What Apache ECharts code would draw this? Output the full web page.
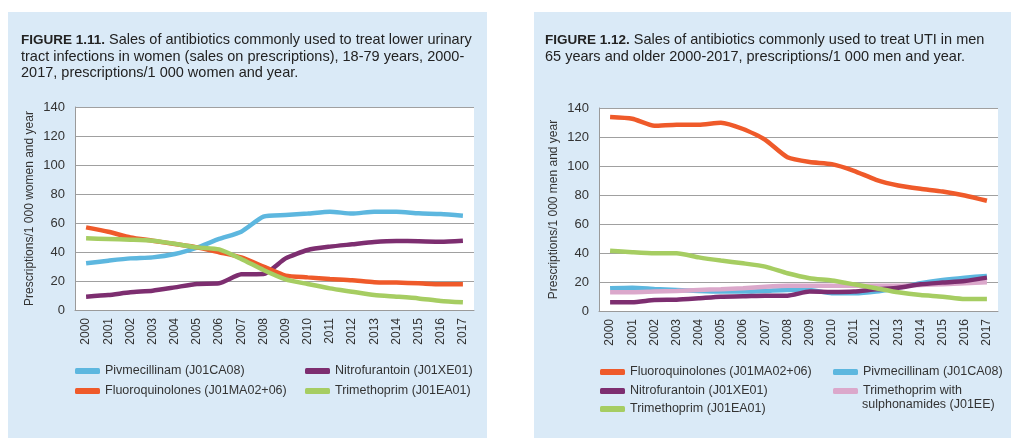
<!DOCTYPE html>
<html><head><meta charset="utf-8">
<script src="https://cdn.jsdelivr.net/npm/echarts@6/dist/echarts.min.js"></script>
<style>html,body{margin:0;padding:0;background:#fff}#c{width:1024px;height:440px}</style>
</head><body><div id="c"></div>
<script>
const years = ['2000','2001','2002','2003','2004','2005','2006','2007','2008','2009','2010','2011','2012','2013','2014','2015','2016','2017'];
const yTicks = [0,20,40,60,80,100,120,140];
// Figure 1.11 (women)
const w_pivmecillinam = [32.2,34,35.6,36.3,38.6,43,49,54,64.4,65.5,66.5,67.8,66.5,67.8,67.8,66.7,66.2,65];
const w_nitrofurantoin = [9.2,10.3,12.2,13.3,15.6,18,18.4,24.6,24.8,35.6,41.4,43.7,45.3,46.9,47.6,47.4,47.1,47.8];
const w_fluoroquinolones = [57,54,50,47.8,45.5,43.2,39.8,36.3,30,23.7,22.5,21.4,20.5,19.1,18.9,18.4,17.7,17.7];
const w_trimethoprim = [49.4,49,48.5,47.8,45.7,43.2,41.8,35.2,27.6,21.1,17.9,14.9,12.6,10.3,9.2,8,6.2,5.3];
// Figure 1.12 (men)
const m_fluoroquinolones = [133.8,132.6,127.8,128.5,128.5,129.9,125.5,118,106,102.7,101.3,96.7,90.5,86.6,84.3,82.4,79.7,76];
const m_pivmecillinam = [15.7,16.1,15.2,14.5,13.8,13.4,13.4,13.8,14.5,14.5,12.2,12.2,13.4,16.1,19.1,21.4,23,24.2];
const m_nitrofurantoin = [6,6,7.6,7.8,8.8,9.9,10.1,10.6,10.6,13.4,13.1,13.4,15,16.1,18.4,19.6,20.7,23];
const m_trimsulpha = [12.9,12.9,13.4,13.8,14.5,15,15.7,16.8,17.5,17.5,17.5,17.5,17.5,17.5,18,18.4,19.1,19.8];
const m_trimethoprim = [41.5,40.5,39.8,39.8,37,34.8,32.9,30.6,26,22.6,21,18.4,15.7,12.9,11,9.9,8.3,8.3];

const C = {blue:'#5db7df', orange:'#ef5a2a', purple:'#7d2e70', green:'#a6cd62', pink:'#dba8cb'};
const FONT = 'Liberation Sans';
const TRIM_SULPHA = 'Trimethoprim with sulphonamides (J01EE)';
const chart = echarts.init(document.getElementById('c'), null, {renderer:'canvas'});

function xAxis(gi){return {type:'category', gridIndex:gi, data:years, boundaryGap:true,
  axisLine:{show:true,lineStyle:{color:'#9a9a9a',width:1}}, axisTick:{show:false},
  axisLabel:{rotate:90, color:'#333', fontSize:12, fontFamily:FONT, margin:8}};}
function yAxis(gi,name){return {type:'value', gridIndex:gi, min:yTicks[0], max:yTicks[yTicks.length-1], interval:20,
  name:name, nameLocation:'middle', nameGap:39, nameRotate:90,
  nameTextStyle:{color:'#333', fontSize:12, fontFamily:FONT},
  axisLine:{show:true,lineStyle:{color:'#9a9a9a',width:1}}, axisTick:{show:false},
  axisLabel:{color:'#333', fontSize:13, fontFamily:FONT, margin:10},
  splitLine:{show:true,lineStyle:{color:'#a0a0a0',width:1}}};}
function line(name,data,color,gi){return {type:'line', name:name, data:data, xAxisIndex:gi, yAxisIndex:gi,
  symbol:'none', smooth:0.2, lineStyle:{color:color,width:4.5}, itemStyle:{color:color}, z:3};}
function leg(name,left,top,fmt){const l = {data:[name], left:left, top:top, itemWidth:25, itemHeight:6, itemGap:4,
  icon:'roundRect', padding:0, textStyle:{color:'#333', fontSize:12.5, fontFamily:FONT, lineHeight:16}, selectedMode:false};
  if (fmt) l.formatter = fmt; return l;}

const rich = {b:{fontWeight:'bold', fontSize:13.5, fontFamily:FONT, fill:'#222', color:'#222'}};

chart.setOption({
  animation:false,
  backgroundColor:'#ffffff',
  graphic:[
    {type:'rect', shape:{x:8,y:12,width:479,height:426}, style:{fill:'#daeaf7'}, z:-10},
    {type:'rect', shape:{x:534,y:12,width:477,height:426}, style:{fill:'#daeaf7'}, z:-10},
    {type:'text', left:21, top:32, style:{text:'{b|FIGURE 1.11.} Sales of antibiotics commonly used to treat lower urinary\ntract infections in women (sales on prescriptions), 18-79 years, 2000-\n2017, prescriptions/1 000 women and year.',
      fill:'#222', font:'14.5px "Liberation Sans"', lineHeight:16.5, rich:rich}},
    {type:'text', left:545, top:32, style:{text:'{b|FIGURE 1.12.} Sales of antibiotics commonly used to treat UTI in men\n65 years and older 2000-2017, prescriptions/1 000 men and year.',
      fill:'#222', font:'14.5px "Liberation Sans"', lineHeight:16.5, rich:rich}},
    {type:'text', left:862, top:398, style:{text:'sulphonamides (J01EE)', fill:'#333', font:'12.5px "Liberation Sans"'}}
  ],
  grid:[
    {left:75, top:107, width:399, height:203, show:true, backgroundColor:'#fff', borderWidth:0},
    {left:599, top:108, width:399, height:203, show:true, backgroundColor:'#fff', borderWidth:0}
  ],
  xAxis:[xAxis(0), xAxis(1)],
  yAxis:[yAxis(0,'Prescriptions/1 000 women and year'), yAxis(1,'Prescriptions/1 000 men and year')],
  legend:[
    leg('Pivmecillinam (J01CA08)',75,363),
    leg('Nitrofurantoin (J01XE01)',305,363),
    leg('Fluoroquinolones (J01MA02+06)',75,383),
    leg('Trimethoprim (J01EA01)',305,383),
    leg('Fluoroquinolones (J01MA02+06) ',600,364),
    leg('Pivmecillinam (J01CA08) ',833,364),
    leg('Nitrofurantoin (J01XE01) ',600,383),
    leg(TRIM_SULPHA,833,383,function(){return 'Trimethoprim with';}),
    leg('Trimethoprim (J01EA01) ',600,401)
  ],
  series:[
    line('Pivmecillinam (J01CA08)', w_pivmecillinam, C.blue, 0),
    line('Nitrofurantoin (J01XE01)', w_nitrofurantoin, C.purple, 0),
    line('Fluoroquinolones (J01MA02+06)', w_fluoroquinolones, C.orange, 0),
    line('Trimethoprim (J01EA01)', w_trimethoprim, C.green, 0),
    line('Pivmecillinam (J01CA08) ', m_pivmecillinam, C.blue, 1),
    line(TRIM_SULPHA, m_trimsulpha, C.pink, 1),
    line('Nitrofurantoin (J01XE01) ', m_nitrofurantoin, C.purple, 1),
    line('Trimethoprim (J01EA01) ', m_trimethoprim, C.green, 1),
    line('Fluoroquinolones (J01MA02+06) ', m_fluoroquinolones, C.orange, 1)
  ]
});
</script></body></html>
